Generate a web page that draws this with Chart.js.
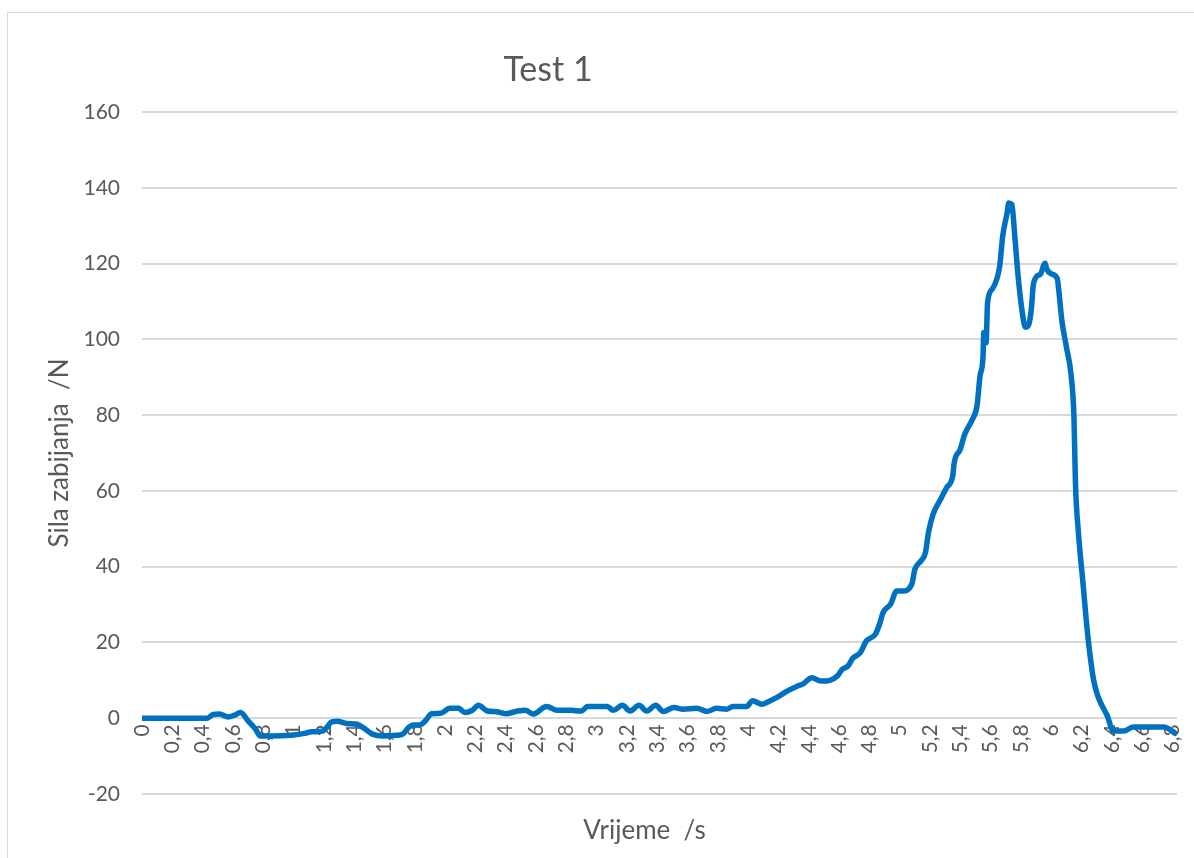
<!DOCTYPE html>
<html>
<head>
<meta charset="utf-8">
<script src="https://cdn.jsdelivr.net/npm/chart.js@4/dist/chart.umd.min.js"></script>
<style>
    html, body { margin: 0; padding: 0; background: #fff; }
    #wrap { position: relative; width: 1194px; height: 858px; }
    #frame { position: absolute; left: 7px; top: 12px; right: 0; bottom: 0;
             border-left: 1px solid #d9d9d9; border-top: 1px solid #d9d9d9; pointer-events: none; }
</style>
</head>
<body>
<div id="wrap">
    <canvas id="test-chart" width="1194" height="858"></canvas>
    <div id="frame"></div>
</div>
<script>
// time /s
const times = [
    0, 0.1, 0.2, 0.3, 0.43, 0.47, 0.51, 0.57, 0.61, 0.65, 0.70, 0.75, 0.78, 0.85, 0.98,
    1.07, 1.12, 1.19, 1.22, 1.25, 1.29, 1.35, 1.42, 1.46, 1.52, 1.59, 1.68, 1.72, 1.76, 1.79,
    1.83, 1.87, 1.91, 1.97, 2.03, 2.09, 2.13, 2.18, 2.22, 2.28, 2.34, 2.40, 2.48, 2.53, 2.58,
    2.67, 2.74, 2.83, 2.90, 2.94, 3.07, 3.11, 3.17, 3.22, 3.28, 3.33, 3.39, 3.44, 3.51, 3.57,
    3.66, 3.73, 3.79, 3.86, 3.90, 3.99, 4.03, 4.09, 4.13, 4.19, 4.26, 4.32, 4.36, 4.42, 4.48,
    4.54, 4.59, 4.62, 4.66, 4.69, 4.74, 4.78, 4.84, 4.87, 4.89, 4.94, 4.98, 5.02, 5.08, 5.10,
    5.14, 5.17, 5.19, 5.22, 5.27, 5.31, 5.35, 5.36, 5.40, 5.43, 5.48, 5.51, 5.53, 5.55, 5.555,
    5.57, 5.58, 5.61, 5.64, 5.66, 5.68, 5.71, 5.72, 5.74, 5.76, 5.78, 5.81, 5.83, 5.85, 5.87,
    5.88, 5.90, 5.93, 5.96, 5.97, 6.00, 6.04, 6.05, 6.07, 6.10, 6.13, 6.15, 6.16, 6.18, 6.21,
    6.24, 6.28, 6.31, 6.37, 6.41, 6.48, 6.54, 6.74, 6.83
];

// sila zabijanja /N
const force = [
    0, 0, 0, 0, 0, 1.0, 1.1, 0.3, 0.8, 1.5, -0.7, -2.9, -4.7, -4.7, -4.5,
    -4.0, -3.6, -3.4, -2.4, -1.0, -0.8, -1.4, -1.6, -2.5, -4.2, -4.7, -4.5, -4.2, -2.4, -1.8,
    -1.8, -0.7, 1.2, 1.3, 2.6, 2.6, 1.5, 2.1, 3.4, 1.9, 1.7, 1.2, 1.9, 2.1, 1.1,
    3.1, 2.1, 2.1, 1.9, 3.1, 3.1, 2.1, 3.4, 1.9, 3.4, 1.9, 3.4, 1.8, 2.8, 2.4,
    2.6, 1.8, 2.6, 2.4, 3.1, 3.1, 4.6, 3.7, 4.3, 5.5, 7.2, 8.4, 9.0, 10.7, 9.8,
    10.0, 11.2, 12.9, 13.8, 15.8, 17.3, 20.4, 22.2, 25.2, 27.9, 30.1, 33.6, 33.6, 35.4, 39.3,
    41.5, 43.7, 49.0, 53.8, 57.8, 60.9, 63.9, 67.5, 71.0, 75.0, 78.9, 82.4, 90.3, 95.5, 101.8,
    99.1, 109.7, 113.2, 115.8, 119.3, 127.3, 133.6, 136.0, 135.6, 127.0, 117.3, 106.8, 103.2, 103.7, 108.5,
    113.8, 116.4, 117.3, 120.1, 118.6, 117.3, 116.0, 112.9, 105.0, 98.0, 91.0, 79.5, 61.9, 48.7, 35.5,
    22.3, 10.0, 5.6, 0.6, -3.4, -3.4, -2.3, -2.3, -4.2
];

const xTicks = [0, 0.2, 0.4, 0.6, 0.8, 1, 1.2, 1.4, 1.6, 1.8, 2, 2.2, 2.4, 2.6, 2.8, 3, 3.2, 3.4,
                3.6, 3.8, 4, 4.2, 4.4, 4.6, 4.8, 5, 5.2, 5.4, 5.6, 5.8, 6, 6.2, 6.4, 6.6, 6.8];

const textColor = '#595959';
const fontFamily = 'Lato, "Open Sans", sans-serif';

// chart title sits left of centre, like in the Excel original
const chartTitle = {
    id: 'chartTitle',
    afterLayout(chart) {
        // axis title is a bit left of the plot centre
        chart.scales.x2.right -= 30;
    },
    afterDraw(chart) {
        const ctx = chart.ctx;
        ctx.save();
        ctx.font = '34px ' + fontFamily;
        ctx.fillStyle = textColor;
        ctx.textAlign = 'center';
        ctx.textBaseline = 'middle';
        ctx.fillText('Test 1', 548, 70);
        ctx.restore();
    }
};

new Chart(document.getElementById('test-chart'), {
    type: 'line',
    data: {
        datasets: [{
            label: 'Test 1',
            data: times.map((t, i) => ({ x: t, y: force[i] })),
            borderColor: '#0070c0',
            borderWidth: 5.5,
            pointRadius: 0,
            cubicInterpolationMode: 'monotone',
            fill: false
        }]
    },
    options: {
        responsive: false,
        animation: false,
        layout: { padding: { left: 0, top: 112, right: 17, bottom: 12 } },
        plugins: {
            legend: { display: false },
            tooltip: { enabled: false }
        },
        scales: {
            x: {
                type: 'linear',
                position: { y: 0 },
                min: 0,
                max: 6.83,
                afterBuildTicks: scale => { scale.ticks = xTicks.map(v => ({ value: v })); },
                afterFit: scale => { scale.paddingLeft = 0; scale.paddingRight = 0; },
                grid: { display: false, drawTicks: false },
                border: { display: false },
                ticks: {
                    autoSkip: false,
                    minRotation: 90,
                    maxRotation: 90,
                    padding: 6,
                    color: textColor,
                    font: { family: fontFamily, size: 21 },
                    callback: v => String(v).replace('.', ',')
                }
            },
            x2: {
                type: 'linear',
                axis: 'x',
                position: 'bottom',
                grid: { display: false, drawTicks: false },
                border: { display: false },
                ticks: { display: false },
                afterFit: scale => { scale.height = 52; },
                title: {
                    display: true,
                    text: 'Vrijeme  /s',
                    color: textColor,
                    padding: 0,
                    font: { family: fontFamily, size: 26 }
                }
            },
            y: {
                min: -20,
                max: 160,
                afterFit: scale => { scale.width = 142; },
                grid: { color: '#d9d9d9', lineWidth: 2, drawTicks: false },
                border: { display: false },
                ticks: {
                    stepSize: 20,
                    padding: 22,
                    color: textColor,
                    font: { family: fontFamily, size: 21 }
                },
                title: {
                    display: true,
                    text: 'Sila zabijanja  /N',
                    color: textColor,
                    padding: { top: 44, bottom: 0 },
                    font: { family: fontFamily, size: 26 }
                }
            }
        }
    },
    plugins: [chartTitle]
});
</script>
</body>
</html>
